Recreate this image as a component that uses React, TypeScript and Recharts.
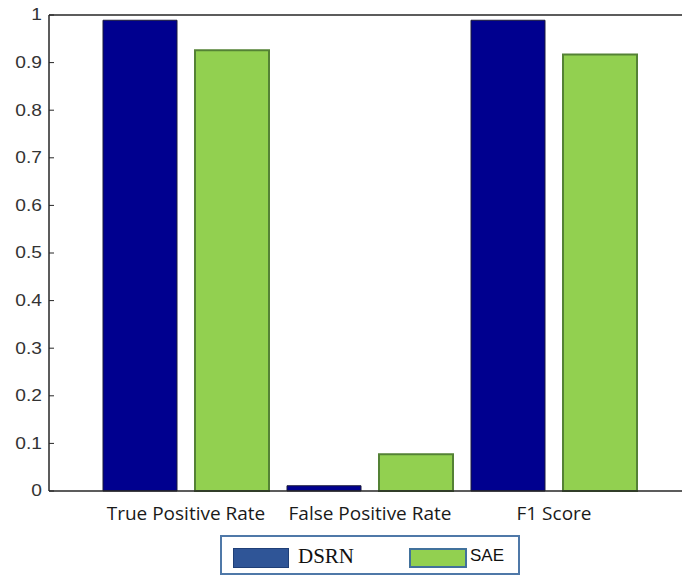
import React from 'react';
import { BarChart, Bar, XAxis, YAxis, Legend, ReferenceLine } from 'recharts';

const categories = ['True Positive Rate', 'False Positive Rate', 'F1 Score'];
const dsrnValues = [0.989, 0.011, 0.989];
const saeValues = [0.926, 0.077, 0.917];
const yTicks = [0, 0.1, 0.2, 0.3, 0.4, 0.5, 0.6, 0.7, 0.8, 0.9, 1];
const yTickLabels = ['0', '0.1', '0.2', '0.3', '0.4', '0.5', '0.6', '0.7', '0.8', '0.9', '1'];
const seriesNames = ['DSRN', 'SAE'];

const data = categories.map((name, i) => ({
  name,
  DSRN: dsrnValues[i],
  SAE: saeValues[i],
}));

const AXIS = '#262626';

const YTick = (props: any) => {
  const { x, y, payload, index } = props;
  const label = yTickLabels[index] ?? String(payload.value);
  return (
    <g>
      <line x1={x} y1={y} x2={x + 5} y2={y} stroke={AXIS} strokeWidth={1} />
      <text
        transform={`translate(${x - 7},${y}) scale(1.2,1)`}
        textAnchor="end"
        dominantBaseline="central"
        fontFamily="Liberation Sans, Arial, sans-serif"
        fontSize={16}
        fill="#333"
      >
        {label}
      </text>
    </g>
  );
};

const XTick = (props: any) => {
  const { x, y, payload } = props;
  return (
    <text
      x={x}
      y={y + 22}
      textAnchor="middle"
      dominantBaseline="central"
      fontFamily="Open Sans, sans-serif"
      fontSize={19}
      fill="#1a1a1a"
    >
      {payload.value}
    </text>
  );
};

const LegendBox = () => (
  <div
    style={{
      position: 'relative',
      width: 300,
      height: 40,
      boxSizing: 'border-box',
      border: '2px solid #4F78A8',
      background: '#fff',
    }}
  >
    <div
      style={{
        position: 'absolute',
        left: 11,
        top: 11,
        width: 56,
        height: 20,
        boxSizing: 'border-box',
        background: '#2F5597',
        border: '1.5px solid #1F3F77',
      }}
    />
    <div
      style={{
        position: 'absolute',
        left: 76,
        top: 0,
        height: 36,
        lineHeight: '38px',
        fontFamily: 'Liberation Serif, Times New Roman, serif',
        fontSize: 21,
        color: '#111',
      }}
    >
      {seriesNames[0]}
    </div>
    <div
      style={{
        position: 'absolute',
        left: 187,
        top: 11,
        width: 58,
        height: 20,
        boxSizing: 'border-box',
        background: '#92D050',
        border: '2px solid #41719C',
      }}
    />
    <div
      style={{
        position: 'absolute',
        left: 248,
        top: 0,
        height: 36,
        lineHeight: '38px',
        fontFamily: 'Liberation Sans, Arial, sans-serif',
        fontSize: 17,
        color: '#111',
      }}
    >
      {seriesNames[1]}
    </div>
  </div>
);

export default function App() {
  return (
    <div style={{ position: 'absolute', left: 0, top: 0, width: 682, height: 579, background: '#fff' }}>
      <BarChart
        width={682}
        height={579}
        data={data}
        margin={{ top: 15, right: 0, left: 0, bottom: 58 }}
        barCategoryGap={9}
        barGap={18}
      >
        <XAxis
          dataKey="name"
          padding={{ left: 45, right: 36 }}
          axisLine={{ stroke: AXIS, strokeWidth: 1.5 }}
          tickLine={false}
          tickSize={0}
          tickMargin={0}
          height={30}
          interval={0}
          tick={<XTick />}
        />
        <YAxis
          type="number"
          domain={[0, 1]}
          ticks={yTicks}
          width={49}
          axisLine={{ stroke: AXIS, strokeWidth: 1.5 }}
          tickLine={false}
          tickSize={0}
          tickMargin={0}
          interval={0}
          tick={<YTick />}
        />
        <ReferenceLine y={1} stroke={AXIS} strokeWidth={1.5} />
        <Legend
          layout="horizontal"
          verticalAlign="middle"
          align="center"
          wrapperStyle={{ position: 'absolute', left: 220, top: 535, width: 300, height: 40 }}
          content={() => <LegendBox />}
        />
        <Bar dataKey="DSRN" fill="#00008F" stroke="#1a1a3a" strokeWidth={1} isAnimationActive={false} />
        <Bar dataKey="SAE" fill="#92D050" stroke="#548235" strokeWidth={2} isAnimationActive={false} />
      </BarChart>
    </div>
  );
}
